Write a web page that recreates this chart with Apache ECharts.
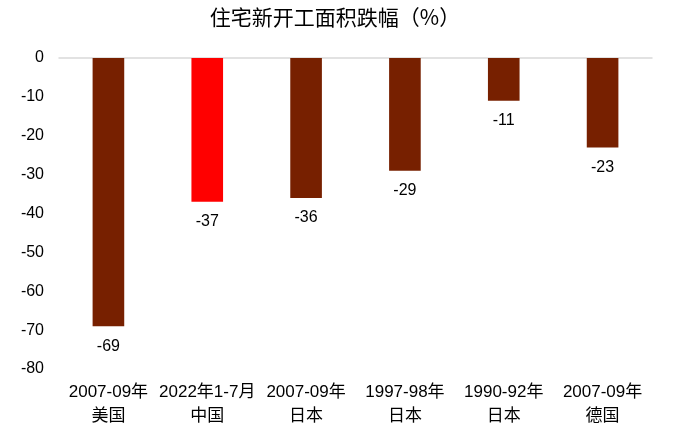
<!DOCTYPE html>
<html><head><meta charset="utf-8">
<script src="https://cdn.jsdelivr.net/npm/echarts@6/dist/echarts.min.js"></script>
<style>html,body{margin:0;padding:0;background:#fff}#c{width:683px;height:432px}</style>
</head><body><div id="c"></div>
<script>
const categories = ['2007-09年\n美国', '2022年1-7月\n中国', '2007-09年\n日本', '1997-98年\n日本', '1990-92年\n日本', '2007-09年\n德国'];
const values = [-69, -37, -36, -29, -11, -23];
const highlightIndex = 1;
const yTicks = [0, -10, -20, -30, -40, -50, -60, -70, -80];

const FONT = '"Liberation Sans", Arial, "Noto Sans CJK SC", sans-serif';
const chart = echarts.init(document.getElementById('c'), null, {renderer: 'canvas'});
chart.setOption({
  animation: false,
  backgroundColor: '#fff',
  title: {
    text: '住宅新开工面积跌幅（%）',
    left: 330, top: 2, textAlign: 'center',
    textStyle: {fontFamily: '"Noto Sans CJK SC", sans-serif', fontSize: 21, fontWeight: 'normal', color: '#000'}
  },
  grid: {left: 59, right: 31, top: 58, bottom: 63},
  xAxis: [{
    type: 'category', data: categories, position: 'bottom',
    axisLine: {show: false, onZero: false}, axisTick: {show: false},
    axisLabel: {fontFamily: FONT, fontSize: 17, color: '#000', lineHeight: 24, margin: 11, interval: 0}
  }, {
    type: 'category', data: categories, position: 'top',
    axisLine: {show: true, lineStyle: {color: '#d9d9d9', width: 1.5}},
    axisTick: {show: false}, axisLabel: {show: false}
  }],
  yAxis: {
    type: 'value', min: yTicks[yTicks.length - 1], max: yTicks[0], interval: 10,
    axisLine: {show: false}, axisTick: {show: false}, splitLine: {show: false},
    axisLabel: {fontFamily: FONT, fontSize: 16, color: '#000', margin: 15}
  },
  series: [{
    type: 'bar', barWidth: '32%',
    data: values.map((v, i) => ({value: v, itemStyle: {color: i === highlightIndex ? '#ff0000' : '#772000'}})),
    label: {show: true, position: 'bottom', distance: 12, fontFamily: FONT, fontSize: 16, color: '#000'}
  }]
});
</script></body></html>
